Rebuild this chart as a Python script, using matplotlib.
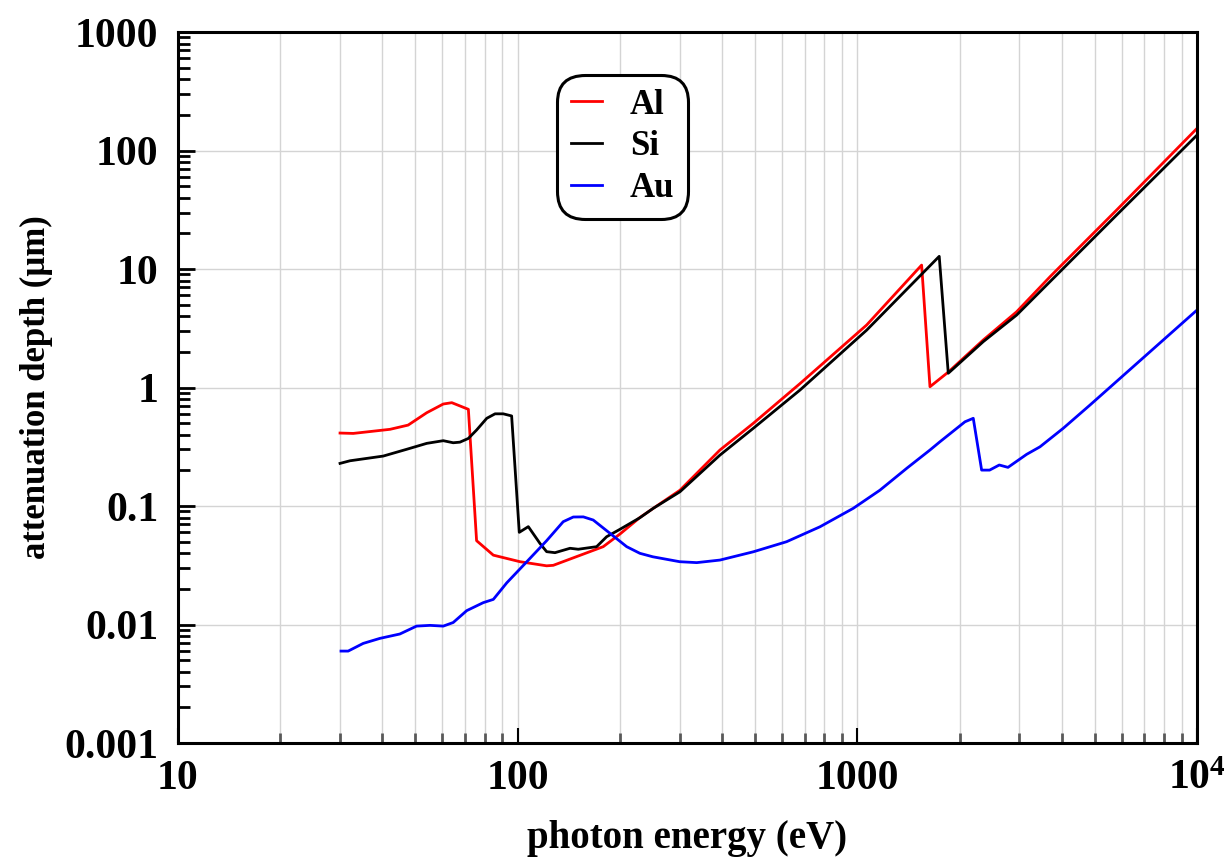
import numpy as np
import matplotlib
matplotlib.use("Agg")
import matplotlib.pyplot as plt
from matplotlib.ticker import FixedLocator, FixedFormatter, LogLocator, NullFormatter

plt.rcParams['font.family'] = ['Liberation Serif', 'DejaVu Serif']
plt.rcParams['font.weight'] = 'bold'
plt.rcParams['axes.labelweight'] = 'bold'

# photon energy (eV) and attenuation depth (um)
al_e = [30.0, 32.8, 42.1, 47.6, 54.0, 60.4, 64.0, 71.6, 75.7, 84.8, 101.6, 121.7, 127.3,
        178.6, 200, 229, 250.8, 300.5, 394, 494, 678, 1065, 1546, 1636, 1852, 2348,
        2944, 3690, 3948, 5800, 10000]
al_d = [0.413, 0.41, 0.444, 0.482, 0.613, 0.726, 0.745, 0.655, 0.051, 0.0385, 0.0339,
        0.0313, 0.0316, 0.0454, 0.058, 0.08, 0.0957, 0.136, 0.297, 0.499, 1.08, 3.37,
        10.8, 1.016, 1.35, 2.52, 4.36, 8.6, 10.45, 31.5, 153.9]

si_e = [30.0, 32.1, 40.2, 47.1, 54.0, 60.4, 64.6, 67.6, 71.6, 75.7, 81.1, 85.8, 90.7,
        96.0, 101.1, 107.5, 116.3, 121.7, 128.8, 142.6, 150.8, 170.8, 182.8, 200, 229,
        250.8, 300.5, 394, 494, 678, 1065, 1742, 1852, 2348, 2944, 3690, 3948, 5800, 10000]
si_d = [0.229, 0.241, 0.264, 0.301, 0.338, 0.356, 0.342, 0.346, 0.372, 0.438, 0.55, 0.60,
        0.60, 0.576, 0.060, 0.067, 0.0484, 0.0412, 0.0404, 0.044, 0.0432, 0.0454, 0.0551,
        0.0636, 0.0797, 0.0957, 0.132, 0.269, 0.453, 0.953, 3.05, 12.8, 1.32, 2.44, 4.09,
        7.82, 9.49, 28.6, 135]

au_e = [30.2, 31.7, 35.1, 39.3, 45.0, 50.4, 55.2, 60.4, 64.6, 70.8, 79.2, 84.8, 92.9,
        106.4, 121.7, 136.2, 145.8, 156.1, 166.9, 186.9, 209.4, 229, 250, 300, 336.6, 394,
        494, 619, 776, 973, 1165, 1400, 1636, 1751, 2074, 2194, 2322, 2451, 2617, 2776,
        3150, 3448, 4037, 4838, 7955, 10000]
au_d = [0.00597, 0.00597, 0.00693, 0.00764, 0.00832, 0.0097, 0.00984, 0.0097, 0.0104,
        0.0131, 0.0153, 0.0163, 0.0225, 0.0339, 0.051, 0.0738, 0.0808, 0.081, 0.0762,
        0.0589, 0.0454, 0.0399, 0.0373, 0.0339, 0.0333, 0.035, 0.0411, 0.050, 0.0668,
        0.0957, 0.136, 0.209, 0.297, 0.349, 0.514, 0.55, 0.201, 0.201, 0.222, 0.212,
        0.273, 0.316, 0.453, 0.711, 2.52, 4.51]

x_ticks = [10, 100, 1000, 10000]
x_labels = ['10', '100', '1000', r'$\mathregular{10^4}$']
y_ticks = [0.001, 0.01, 0.1, 1, 10, 100, 1000]
y_labels = ['0.001', '0.01', '0.1', '1', '10', '100', '1000']

fig = plt.figure(figsize=(12.29, 8.59), dpi=100)
ax = fig.add_axes([0.1448, 0.135, 0.8292, 0.8277])

ax.plot(al_e, al_d, color='red', lw=2, label='Al')
ax.plot(si_e, si_d, color='black', lw=2, label='Si')
ax.plot(au_e, au_d, color='blue', lw=2, label='Au')

ax.set_xscale('log')
ax.set_yscale('log')
ax.set_xlim(10, 10000)
ax.set_ylim(0.001, 1000)

ax.xaxis.set_major_locator(FixedLocator(x_ticks))
ax.xaxis.set_major_formatter(FixedFormatter(x_labels))
ax.xaxis.set_minor_locator(LogLocator(base=10, subs=np.arange(2, 10)))
ax.xaxis.set_minor_formatter(NullFormatter())
ax.yaxis.set_major_locator(FixedLocator(y_ticks))
ax.yaxis.set_major_formatter(FixedFormatter(y_labels))
ax.yaxis.set_minor_locator(LogLocator(base=10, subs=np.arange(2, 10)))
ax.yaxis.set_minor_formatter(NullFormatter())

ax.grid(True, which='both', axis='x', color='#d4d4d4', lw=1.0)
ax.grid(True, which='major', axis='y', color='#d4d4d4', lw=1.0)
ax.set_axisbelow(True)

ax.tick_params(axis='both', which='both', direction='in', labelsize=30)
ax.tick_params(axis='x', which='major', length=11, width=1.5, pad=12)
ax.tick_params(axis='x', which='minor', length=7, width=2, color='0.35')
ax.tick_params(axis='y', which='major', length=12, width=2, pad=14)
ax.tick_params(axis='y', which='minor', length=8.5, width=2)

for s in ax.spines.values():
    s.set_linewidth(2.2)

ax.set_xlabel('photon energy (eV)', fontsize=28, labelpad=16)
ax.set_ylabel('attenuation depth (\u00b5m)', fontsize=25, labelpad=8)

leg = ax.legend(loc='upper left', bbox_to_anchor=(0.372, 0.94), fontsize=25,
                handlelength=0.9, handletextpad=0.8, labelspacing=0.25,
                borderpad=0.4, borderaxespad=0, framealpha=1, edgecolor='black')
leg.get_frame().set_boxstyle('round', pad=0, rounding_size=0.8)
leg.get_frame().set_linewidth(2.2)

fig.savefig('out.png', dpi=100)
